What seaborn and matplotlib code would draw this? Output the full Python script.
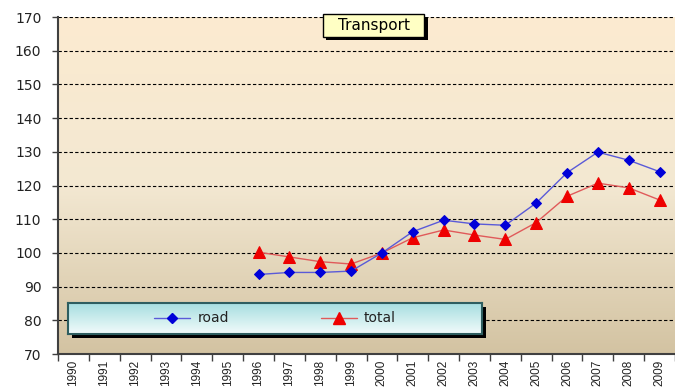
import numpy as np
import pandas as pd
import matplotlib
matplotlib.use("Agg")
import matplotlib.pyplot as plt
from matplotlib.patches import Rectangle
from matplotlib.lines import Line2D
from matplotlib.colors import LinearSegmentedColormap
import seaborn as sns

# Index values (2000 = 100)
years = [str(y) for y in range(1990, 2010)]
road = [np.nan] * 6 + [93.6, 94.2, 94.2, 94.6, 100.0, 106.3, 109.7, 108.6, 108.2,
                       114.8, 123.8, 129.9, 127.5, 124.1]
total = [np.nan] * 6 + [100.2, 98.8, 97.4, 96.7, 100.0, 104.5, 106.8, 105.3, 104.0,
                        109.0, 116.8, 120.7, 119.3, 115.7]
y_ticks = list(range(70, 171, 10))
title_text = "Transport"
series_names = ["road", "total"]

sns.set_theme(style="white")
plt.rcParams["font.family"] = ["DejaVu Sans"]

df = pd.DataFrame({"pos": np.arange(len(years)), "year": years,
                   "road": road, "total": total})

W, H = 675, 387
fig = plt.figure(figsize=(W / 100, H / 100), dpi=100)
fig.patch.set_facecolor("white")
ax = fig.add_axes([58 / W, 1 - 354 / H, (W - 58) / W, (354 - 17) / H])

# warm vertical gradient behind the plot: light at the top, tan at the bottom
grad = np.linspace(0, 1, 256).reshape(-1, 1)
bg = LinearSegmentedColormap.from_list("bg", ["#FCEBD0", "#F3E8D2", "#D3C3A2"])
ax.imshow(grad, extent=[-0.5, len(years) - 0.5, 70, 170], origin="upper",
          cmap=bg, aspect="auto", zorder=0, interpolation="bilinear")

sns.lineplot(data=df, x="pos", y="road", ax=ax, color="#5A5AD8", lw=1.0,
             marker="D", markersize=5.5, markerfacecolor="#0000D8",
             markeredgecolor="#0000D8", zorder=4)
sns.lineplot(data=df, x="pos", y="total", ax=ax, color="#E05A5A", lw=1.0,
             marker="^", markersize=8, markerfacecolor="#EE0000",
             markeredgecolor="#EE0000", zorder=3)

ax.set_xlim(-0.5, len(years) - 0.5)
ax.set_ylim(70, 170)
ax.set_yticks(y_ticks)
ax.set_yticklabels([str(v) for v in y_ticks], fontsize=10, color="#222222")
for v in y_ticks[1:]:
    ax.axhline(v, color="black", lw=0.8, ls=(0, (3, 2)), zorder=1)

ax.set_xticks(np.arange(len(years)))
ax.set_xticklabels(years, rotation=90, fontsize=8.5, color="#222222",
                   family=["Liberation Sans", "DejaVu Sans"])
ax.set_xticks(np.arange(len(years) + 1) - 0.5, minor=True)
ax.tick_params(axis="x", which="major", length=0, pad=4)
ax.tick_params(axis="x", which="minor", length=5, width=1, color="#404040",
               direction="out", bottom=True)
ax.tick_params(axis="y", length=4, width=1, color="#404040", direction="out",
               left=True, pad=8)
ax.set_xlabel("")
ax.set_ylabel("")
for s in ["top", "right"]:
    ax.spines[s].set_visible(False)
for s in ["left", "bottom"]:
    ax.spines[s].set_color("#404040")
    ax.spines[s].set_linewidth(1.5)
    ax.spines[s].set_zorder(5)

def fig_box(x0, y0, x1, y1):
    return (x0 / W, 1 - y1 / H, (x1 - x0) / W, (y1 - y0) / H)

# title box with drop shadow
sx, sy, sw, sh = fig_box(326, 17, 428, 40)
fig.patches.append(Rectangle((sx, sy), sw, sh, transform=fig.transFigure,
                             facecolor="black", edgecolor="none", zorder=10))
tx, ty, tw, th = fig_box(323, 14, 424, 37)
fig.patches.append(Rectangle((tx, ty), tw, th, transform=fig.transFigure,
                             facecolor="#FFFFC4", edgecolor="black", lw=1.0, zorder=11))
fig.text(tx + tw / 2, ty + th / 2, title_text, ha="center", va="center",
         fontsize=11, color="black", zorder=12)

# legend panel with drop shadow and cyan gradient
lx, ly, lw_, lh = fig_box(68, 303, 482, 334)
shx, shy, shw, shh = fig_box(72, 307, 486, 338)
fig.patches.append(Rectangle((shx, shy), shw, shh, transform=fig.transFigure,
                             facecolor="black", edgecolor="none", zorder=10))
lax = fig.add_axes([lx, ly, lw_, lh], zorder=11)
lcm = LinearSegmentedColormap.from_list("lg", ["#A6DEE0", "#F2FBFB"])
lax.imshow(grad, extent=[0, 1, 0, 1], cmap=lcm, aspect="auto",
           interpolation="bilinear")
lax.set_xticks([])
lax.set_yticks([])
for s in lax.spines.values():
    s.set_color("#2E5E60")
    s.set_linewidth(1.5)

handles = [
    Line2D([], [], color="#5A5AD8", lw=1.0, marker="D", markersize=5.5,
           markerfacecolor="#0000D8", markeredgecolor="#0000D8"),
    Line2D([], [], color="#E05A5A", lw=1.0, marker="^", markersize=8,
           markerfacecolor="#EE0000", markeredgecolor="#EE0000"),
]
leg = lax.legend(handles, series_names, loc="center", ncol=2, frameon=False,
                 fontsize=10, handlelength=2.6, handletextpad=0.5,
                 columnspacing=6.6)
for t in leg.get_texts():
    t.set_color("#222222")

fig.savefig("out.png", dpi=100)
